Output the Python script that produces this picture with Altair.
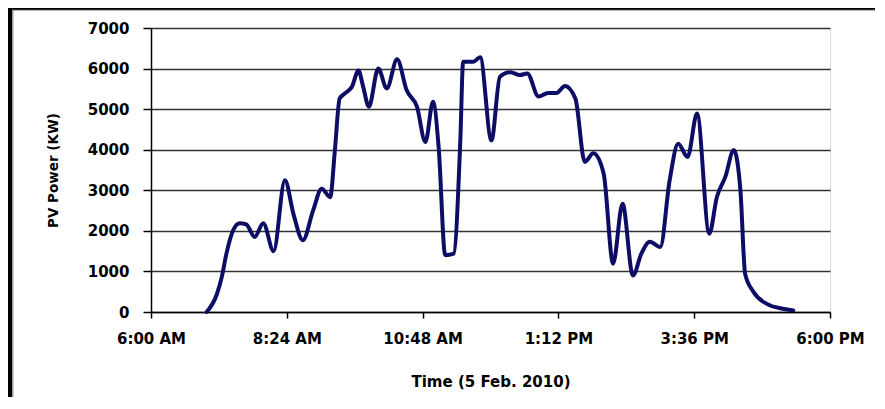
import altair as alt
import pandas as pd

# --- data ---
times = ["6:59", "7:10", "7:15", "7:20", "7:27", "7:34", "7:41", "7:50", "7:59", "8:10",
         "8:22", "8:31", "8:41", "8:52", "9:01", "9:10", "9:15", "9:20", "9:28", "9:33",
         "9:40", "9:45", "9:51", "10:01", "10:10", "10:21", "10:31", "10:42", "10:51", "10:59",
         "11:05", "11:12", "11:21", "11:28", "11:31", "11:42", "11:49", "12:01", "12:10", "12:21",
         "12:31", "12:39", "12:51", "13:01", "13:10", "13:19", "13:30", "13:40", "13:49", "14:00",
         "14:10", "14:20", "14:31", "14:40", "14:49", "15:00", "15:10", "15:19", "15:29", "15:39",
         "15:52", "16:00", "16:09", "16:18", "16:25", "16:30", "16:39", "16:53", "17:10", "17:21"]
power = [0, 450, 860, 1440, 2010, 2190, 2160, 1850, 2190, 1500,
         3250, 2420, 1770, 2510, 3040, 2830, 3990, 5260, 5430, 5550,
         5950, 5550, 5060, 6000, 5510, 6230, 5470, 5060, 4190, 5180,
         4070, 1400, 1440, 4230, 6170, 6170, 6280, 4230, 5800, 5910,
         5840, 5880, 5310, 5400, 5400, 5570, 5260, 3700, 3910, 3410,
         1190, 2670, 900, 1440, 1730, 1600, 3250, 4150, 3820, 4890,
         1930, 2830, 3330, 3990, 3000, 940, 490, 200, 80, 35]
tick_minutes = [360, 504, 648, 792, 936, 1080]   # 6:00 AM ... 6:00 PM
y_ticks = [0, 1000, 2000, 3000, 4000, 5000, 6000, 7000]

df = pd.DataFrame({
    "minutes": [int(t.split(":")[0]) * 60 + int(t.split(":")[1]) for t in times],
    "power": power,
})

W, H = 679, 284
FONT = "DejaVu Sans"

label_expr = ("(floor(datum.value/60)%12==0 ? 12 : floor(datum.value/60)%12) + ':' + "
              "(datum.value%60<10 ? '0' : '') + (datum.value%60) + "
              "(datum.value<720 ? ' AM' : ' PM')")

line = alt.Chart(df).mark_line(
    interpolate="monotone", color="#0d0d66", strokeWidth=4,
    strokeJoin="round", strokeCap="round"
).encode(
    x=alt.X("minutes:Q",
            scale=alt.Scale(domain=[360, 1080], nice=False, zero=False),
            axis=alt.Axis(values=tick_minutes, labelExpr=label_expr,
                          title="Time (5 Feb. 2010)", grid=False,
                          tickSize=6, tickColor="black", domainColor="black",
                          domainWidth=1.5, tickWidth=1.5,
                          labelFont=FONT, labelFontSize=15, labelFontWeight="bold",
                          labelColor="black", labelPadding=13, labelFlush=False,
                          titleFont=FONT, titleFontSize=15, titleFontWeight="bold",
                          titleColor="black", titleX=W / 2, titleY=69,
                          titleBaseline="middle", titleAlign="center")),
    y=alt.Y("power:Q",
            scale=alt.Scale(domain=[0, 7000], nice=False),
            axis=alt.Axis(values=y_ticks, format="d", title="PV Power (KW)", grid=True,
                          gridColor="#333333", gridWidth=1.3,
                          tickSize=8, tickColor="black", domainColor="black",
                          domainWidth=1.5, tickWidth=1.5,
                          labelFont=FONT, labelFontSize=15, labelFontWeight="bold",
                          labelColor="black", labelPadding=14,
                          titleFont=FONT, titleFontSize=13.5, titleFontWeight="bold",
                          titleColor="black", titleX=-98, titleY=H / 2,
                          titleBaseline="middle", titleAlign="center", titleAngle=-90)),
)

frame_df = pd.DataFrame({"a": [0]})
frame_left_grey = alt.Chart(frame_df).mark_rule(color="#9a9a9a", strokeWidth=1.5).encode(
    x=alt.value(-138.2), y=alt.value(-20), y2=alt.value(400))
frame_top_grey = alt.Chart(frame_df).mark_rule(color="#9a9a9a", strokeWidth=1.5).encode(
    x=alt.value(-138), x2=alt.value(800), y=alt.value(-18))
frame_left = alt.Chart(frame_df).mark_rule(color="black", strokeWidth=4).encode(
    x=alt.value(-141), y=alt.value(-20), y2=alt.value(400))
frame_top = alt.Chart(frame_df).mark_rule(color="black", strokeWidth=2.5).encode(
    x=alt.value(-143), x2=alt.value(800), y=alt.value(-19.5))

chart = alt.layer(line, frame_left_grey, frame_top_grey, frame_left, frame_top).properties(
    width=W, height=H,
    autosize=alt.AutoSizeParams(type="none"),
    padding={"left": 143, "top": 20, "right": 45, "bottom": 85},
).configure_view(stroke=None).configure(background="white")

chart.save("out.html", embed_options={"renderer": "svg", "actions": False})
